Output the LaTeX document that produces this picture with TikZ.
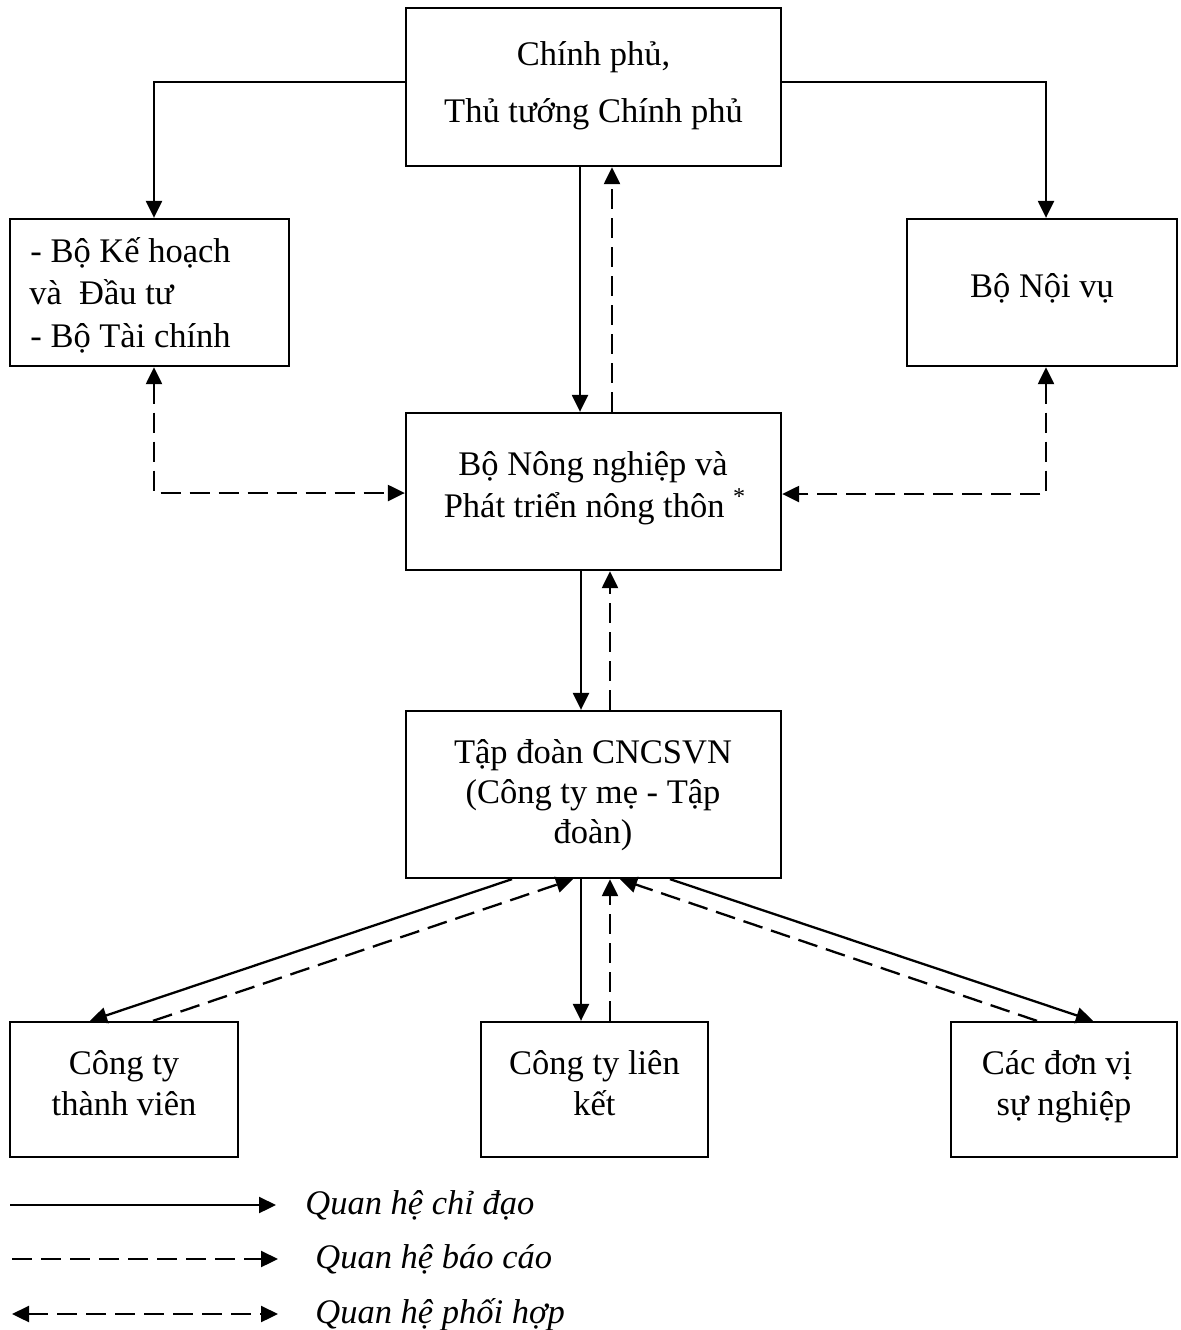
\documentclass[tikz,border=0pt]{standalone}
\usepackage{fontspec}
\setmainfont{Liberation Serif}
\usetikzlibrary{arrows.meta,calc}
\begin{document}
\begin{tikzpicture}[x=0.5pt,y=-0.5pt,
  box/.style={draw,line width=1.15pt,inner sep=0pt},
  txt/.style={font=\fontsize{17.25}{20}\selectfont,anchor=base,inner sep=0pt},
  leg/.style={font=\fontsize{17.25}{20}\selectfont\itshape,anchor=base west,inner sep=0pt},
  tip/.tip={Triangle[length=8.5pt,width=8pt]},
  lead/.style={line width=1.15pt,-tip},
  rep/.style={line width=1.15pt,dash pattern=on 10pt off 4.5pt,-tip},
  coop/.style={line width=1.15pt,dash pattern=on 10pt off 4.5pt,tip-tip}]
\useasboundingbox (0,0) rectangle (1181,1330);

% boxes
\node[box,minimum width=187.5pt,minimum height=79pt] (gov) at (593.5,87) {};
\node[box,minimum width=139.5pt,minimum height=73.5pt] (kh) at (149.5,292.5) {};
\node[box,minimum width=135pt,minimum height=73.5pt] (nv) at (1042,292.5) {};
\node[box,minimum width=187.5pt,minimum height=78.5pt] (nn) at (593.5,491.5) {};
\node[box,minimum width=187.5pt,minimum height=83.5pt] (td) at (593.5,794.5) {};
\node[box,minimum width=114pt,minimum height=67.5pt] (ct) at (124,1089.5) {};
\node[box,minimum width=113.5pt,minimum height=67.5pt] (lk) at (594.5,1089.5) {};
\node[box,minimum width=113pt,minimum height=67.5pt] (sn) at (1064,1089.5) {};

% texts
\node[txt] (gov1) at (593.5,65) {Chính phủ,};
\node[txt] (gov2) at (593.5,122) {Thủ tướng Chính phủ};
\node[txt,anchor=base west] (kh1) at (30,262) {- Bộ Kế hoạch};
\node[txt,anchor=base west] (kh2) at (29,304) {và\ \ Đầu tư};
\node[txt,anchor=base west] (kh3) at (30,347) {- Bộ Tài chính};
\node[txt] (nv1) at (1042,297) {Bộ Nội vụ};
\node[txt] (nn1) at (593,475) {Bộ Nông nghiệp và};
\node[txt] (nn2) at (595,517) {Phát triển nông thôn \textsuperscript{*}};
\node[txt] (td1) at (593,763) {Tập đoàn CNCSVN};
\node[txt] (td2) at (593,803) {(Công ty mẹ - Tập};
\node[txt] (td3) at (593,843) {đoàn)};
\node[txt] (ct1) at (124,1074) {Công ty};
\node[txt] (ct2) at (124,1115) {thành viên};
\node[txt] (lk1) at (594.5,1074) {Công ty liên};
\node[txt] (lk2) at (594.5,1115) {kết};
\node[txt] (sn1) at (1057,1074) {Các đơn vị};
\node[txt] (sn2) at (1064,1115) {sự nghiệp};

% connectors
\draw[lead] ([yshift=2.5pt]gov.west) -| ([xshift=2.25pt]kh.north);
\draw[lead] ([yshift=2.5pt]gov.east) -| ([xshift=2pt]nv.north);
\draw[lead] ([xshift=-6.75pt]gov.south) -- ([xshift=-6.75pt]gov.south |- nn.north);
\draw[rep] ([xshift=9.25pt]nn.north) -- ([xshift=9.25pt]nn.north |- gov.south);
\draw[coop] ([xshift=2.25pt]kh.south) |- ([yshift=-0.75pt]nn.west);
\draw[coop] ([xshift=2pt]nv.south) |- ([yshift=-1.25pt]nn.east);
\draw[lead] ([xshift=-6.25pt]nn.south) -- ([xshift=-6.25pt]nn.south |- td.north);
\draw[rep] ([xshift=8.25pt]td.north) -- ([xshift=8.25pt]td.north |- nn.south);
\draw[lead] ([xshift=-40.75pt]td.south) -- ([xshift=-17pt]ct.north);
\draw[rep] ([xshift=14.5pt]ct.north) -- ([xshift=-10.25pt]td.south);
\draw[lead] ([xshift=-6.25pt]td.south) -- ([xshift=-6.25pt]td.south |- lk.north);
\draw[rep] ([xshift=7.75pt]lk.north) -- ([xshift=7.75pt]lk.north |- td.south);
\draw[lead] ([xshift=38.25pt]td.south) -- ([xshift=14.5pt]sn.north);
\draw[rep] ([xshift=-13.5pt]sn.north) -- ([xshift=13.25pt]td.south);

% legend
\coordinate (l1a) at (10,1205); \coordinate (l1b) at (276,1205);
\coordinate (l2a) at (12,1259); \coordinate (l2b) at (278,1259);
\coordinate (l3a) at (12,1314); \coordinate (l3b) at (278,1314);
\draw[lead] (l1a) -- (l1b);
\draw[rep] (l2a) -- (l2b);
\draw[coop] (l3a) -- (l3b);
\node[leg] (lg1) at (305,1214) {Quan hệ chỉ đạo};
\node[leg] (lg2) at (315,1268) {Quan hệ báo cáo};
\node[leg] (lg3) at (315,1323) {Quan hệ phối hợp};
\end{tikzpicture}
\end{document}
